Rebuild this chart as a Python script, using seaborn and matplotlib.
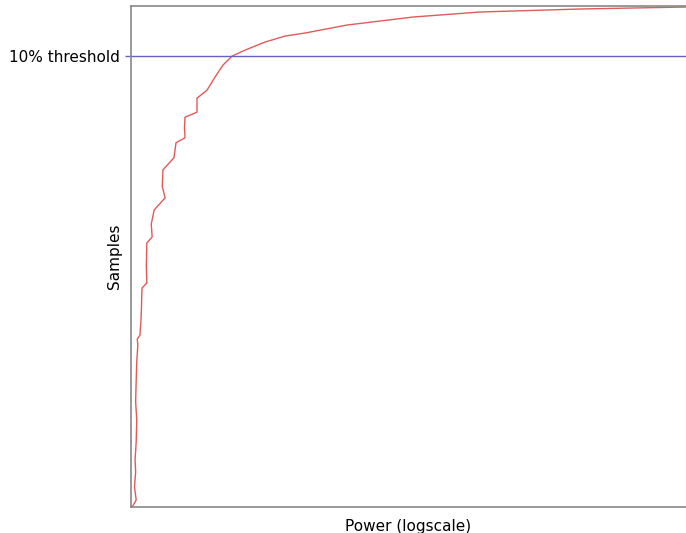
import numpy as np
import pandas as pd
import seaborn as sns
import matplotlib.pyplot as plt
from matplotlib.ticker import NullLocator

sns.set_style("white")

# samples sorted by power (sample rank out of 1000)
samples = [0, 14, 40, 70, 94, 130, 174, 210, 253, 290, 323, 335, 343, 373, 400,
           437, 447, 480, 527, 539, 565, 593, 617, 640, 673, 697, 727, 737, 758,
           778, 788, 816, 832, 858, 882, 900, 912, 928, 940, 946, 962, 978, 988,
           994, 998]
power = [1.02, 1.09, 1.06, 1.08, 1.07, 1.09, 1.10, 1.08, 1.09, 1.10, 1.12, 1.11,
         1.16, 1.18, 1.19, 1.20, 1.30, 1.29, 1.30, 1.42, 1.40, 1.47, 1.76, 1.68,
         1.70, 2.04, 2.11, 2.45, 2.43, 2.45, 2.99, 2.99, 3.53, 4.03, 4.60, 5.35,
         6.64, 9.25, 12.9, 17.9, 36.1, 108, 327, 1722, 10000]
threshold = 900
threshold_label = "10% threshold"

df = pd.DataFrame({"power": power, "samples": samples})

fig = plt.figure(figsize=(6.86, 5.33), dpi=100)
ax = fig.add_axes([131 / 686, 26 / 533, 555 / 686, 501 / 533])

sns.lineplot(data=df, x="power", y="samples", sort=False, estimator=None,
             color="#e05a5a", linewidth=1, ax=ax)
ax.axhline(threshold, color="#6464c0", linewidth=1)

ax.set_xscale("log")
ax.set_xlim(1, 1e4)
ax.set_ylim(0, 1000)
ax.xaxis.set_major_locator(NullLocator())
ax.xaxis.set_minor_locator(NullLocator())
ax.set_yticks([threshold])
ax.set_yticklabels([threshold_label], fontsize=11, color="black")
ax.tick_params(axis="y", length=4, color="#6464c0", width=1, pad=4, left=True)

for side in ["left", "bottom", "top"]:
    ax.spines[side].set_color("#888888")
    ax.spines[side].set_linewidth(1.2)
ax.spines["right"].set_visible(False)

ax.set_xlabel("Power (logscale)", fontsize=11, labelpad=9, color="black")
ax.set_ylabel("Samples", fontsize=11, color="black")
ax.yaxis.set_label_coords(-0.016, 0.5)

fig.savefig("out.png", dpi=100)
